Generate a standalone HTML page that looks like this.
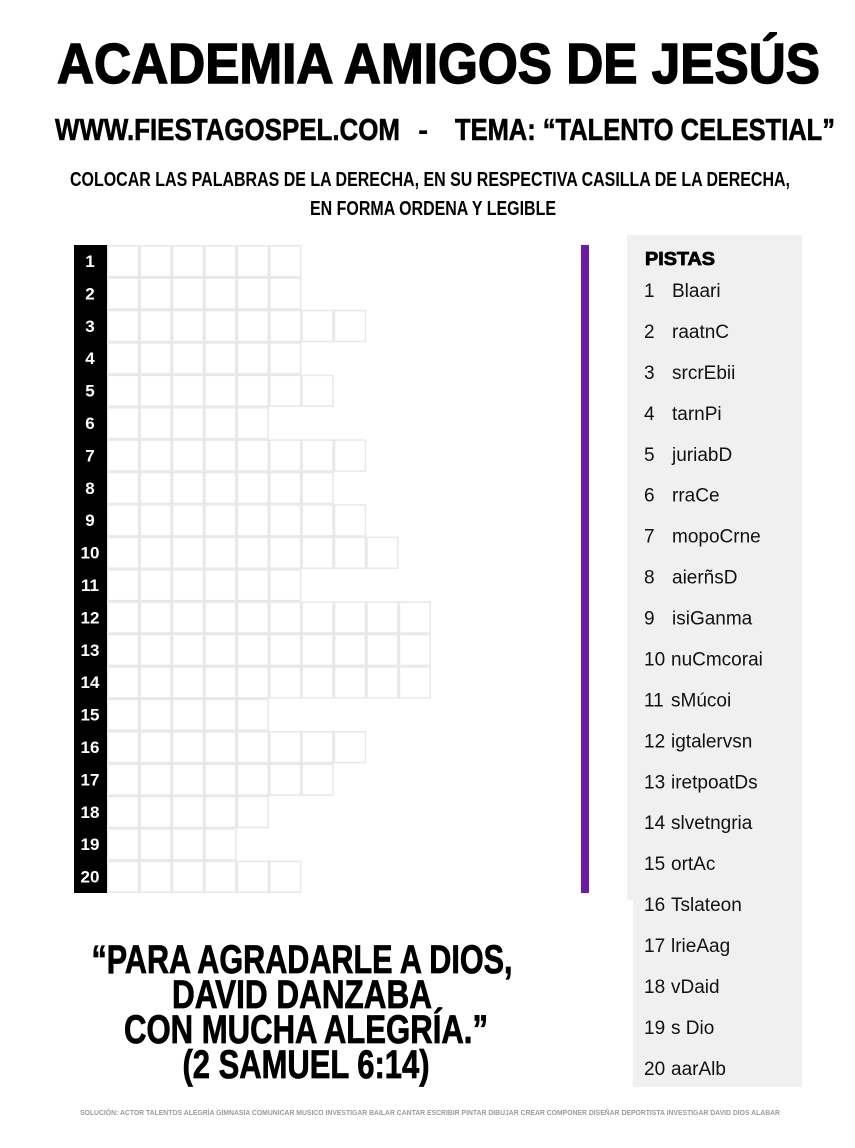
<!DOCTYPE html>
<html><head><meta charset="utf-8"><style>
html,body{margin:0;padding:0;background:#fff;}
svg{display:block;}
</style></head><body>
<svg width="855" height="1148" viewBox="0 0 855 1148" xmlns="http://www.w3.org/2000/svg" font-family="Liberation Sans, sans-serif">
<defs>
<pattern id="cell" patternUnits="userSpaceOnUse" x="107" y="245" width="32.4" height="32.4">
<rect x="0" y="0" width="32.4" height="32.4" fill="#fff" stroke="#e8e8e8" stroke-width="3"/>
</pattern>
</defs>
<rect width="855" height="1148" fill="#fff"/>
<text x="57" y="83" font-size="57" font-weight="bold" stroke="#000" stroke-width="1.5" textLength="763" lengthAdjust="spacingAndGlyphs">ACADEMIA AMIGOS DE JESÚS</text>
<text x="55" y="140" font-size="31" font-weight="bold" stroke="#000" stroke-width="0.6" textLength="345" lengthAdjust="spacingAndGlyphs">WWW.FIESTAGOSPEL.COM</text>
<text x="418" y="140" font-size="31" font-weight="bold">-</text>
<text x="455" y="140" font-size="31" font-weight="bold" stroke="#000" stroke-width="0.6" textLength="380" lengthAdjust="spacingAndGlyphs">TEMA: “TALENTO CELESTIAL”</text>
<text x="70" y="186" font-size="20" font-weight="bold" textLength="720" lengthAdjust="spacingAndGlyphs">COLOCAR LAS PALABRAS DE LA DERECHA, EN SU RESPECTIVA CASILLA DE LA DERECHA,</text>
<text x="310" y="215" font-size="20" font-weight="bold" textLength="246" lengthAdjust="spacingAndGlyphs">EN FORMA ORDENA Y LEGIBLE</text>

<rect x="627" y="235" width="175" height="665" fill="#f0f0f0"/>
<rect x="633" y="895" width="169" height="192" fill="#f0f0f0"/>
<rect x="581" y="245" width="8" height="648" fill="#6f1aa6"/>

<g fill="url(#cell)">
<rect x="107" y="245" width="194.4" height="32.4"/>
<rect x="107" y="277.4" width="194.4" height="32.4"/>
<rect x="107" y="309.8" width="259.2" height="32.4"/>
<rect x="107" y="342.2" width="194.4" height="32.4"/>
<rect x="107" y="374.6" width="226.8" height="32.4"/>
<rect x="107" y="407" width="162" height="32.4"/>
<rect x="107" y="439.4" width="259.2" height="32.4"/>
<rect x="107" y="471.8" width="226.8" height="32.4"/>
<rect x="107" y="504.2" width="259.2" height="32.4"/>
<rect x="107" y="536.6" width="291.6" height="32.4"/>
<rect x="107" y="569" width="194.4" height="32.4"/>
<rect x="107" y="601.4" width="324" height="32.4"/>
<rect x="107" y="633.8" width="324" height="32.4"/>
<rect x="107" y="666.2" width="324" height="32.4"/>
<rect x="107" y="698.6" width="162" height="32.4"/>
<rect x="107" y="731" width="259.2" height="32.4"/>
<rect x="107" y="763.4" width="226.8" height="32.4"/>
<rect x="107" y="795.8" width="162" height="32.4"/>
<rect x="107" y="828.2" width="129.6" height="32.4"/>
<rect x="107" y="860.6" width="194.4" height="32.4"/>
</g>
<rect x="74" y="245" width="33" height="648" fill="#000"/>
<g fill="#fff" font-weight="bold" font-size="17" text-anchor="middle">
<text x="90" y="267">1</text><text x="90" y="299.4">2</text><text x="90" y="331.8">3</text><text x="90" y="364.2">4</text><text x="90" y="396.6">5</text>
<text x="90" y="429">6</text><text x="90" y="461.4">7</text><text x="90" y="493.8">8</text><text x="90" y="526.2">9</text><text x="90" y="558.6">10</text>
<text x="90" y="591">11</text><text x="90" y="623.4">12</text><text x="90" y="655.8">13</text><text x="90" y="688.2">14</text><text x="90" y="720.6">15</text>
<text x="90" y="753">16</text><text x="90" y="785.4">17</text><text x="90" y="817.8">18</text><text x="90" y="850.2">19</text><text x="90" y="882.6">20</text>
</g>

<text x="645" y="265" font-size="18" font-weight="bold" stroke="#000" stroke-width="0.8" textLength="70" lengthAdjust="spacingAndGlyphs">PISTAS</text>
<g font-size="19" fill="#111">
<text x="644" y="297">1</text><text x="672" y="297">Blaari</text>
<text x="644" y="337.9">2</text><text x="672" y="337.9">raatnC</text>
<text x="644" y="378.9">3</text><text x="672" y="378.9">srcrEbii</text>
<text x="644" y="419.8">4</text><text x="672" y="419.8">tarnPi</text>
<text x="644" y="460.8">5</text><text x="672" y="460.8">juriabD</text>
<text x="644" y="501.7">6</text><text x="672" y="501.7">rraCe</text>
<text x="644" y="542.6">7</text><text x="672" y="542.6">mopoCrne</text>
<text x="644" y="583.6">8</text><text x="672" y="583.6">aierñsD</text>
<text x="644" y="624.5">9</text><text x="672" y="624.5">isiGanma</text>
<text x="644" y="665.5">10</text><text x="671" y="665.5">nuCmcorai</text>
<text x="644" y="706.4">11</text><text x="671" y="706.4">sMúcoi</text>
<text x="644" y="747.3">12</text><text x="671" y="747.3">igtalervsn</text>
<text x="644" y="788.3">13</text><text x="671" y="788.3">iretpoatDs</text>
<text x="644" y="829.2">14</text><text x="671" y="829.2">slvetngria</text>
<text x="644" y="870.2">15</text><text x="671" y="870.2">ortAc</text>
<text x="644" y="911.1">16</text><text x="671" y="911.1">Tslateon</text>
<text x="644" y="952">17</text><text x="671" y="952">lrieAag</text>
<text x="644" y="993">18</text><text x="671" y="993">vDaid</text>
<text x="644" y="1033.9">19</text><text x="671" y="1033.9">s Dio</text>
<text x="644" y="1074.9">20</text><text x="671" y="1074.9">aarAlb</text>
</g>

<g font-weight="bold" font-size="40" text-anchor="middle" fill="#000" stroke="#000" stroke-width="0.8">
<text x="302" y="973" textLength="421" lengthAdjust="spacingAndGlyphs">“PARA AGRADARLE A DIOS,</text>
<text x="302" y="1008" textLength="260" lengthAdjust="spacingAndGlyphs">DAVID DANZABA</text>
<text x="306" y="1043" textLength="364" lengthAdjust="spacingAndGlyphs">CON MUCHA ALEGRÍA.”</text>
<text x="306" y="1078" textLength="247" lengthAdjust="spacingAndGlyphs">(2 SAMUEL 6:14)</text>
</g>
<text x="80" y="1115" font-size="7" font-weight="bold" fill="#9a9a9a" textLength="700" lengthAdjust="spacingAndGlyphs">SOLUCIÓN: ACTOR TALENTOS ALEGRÍA GIMNASIA COMUNICAR MUSICO INVESTIGAR BAILAR CANTAR ESCRIBIR PINTAR DIBUJAR CREAR COMPONER DISEÑAR DEPORTISTA INVESTIGAR DAVID DIOS ALABAR</text>
</svg>
</body></html>
